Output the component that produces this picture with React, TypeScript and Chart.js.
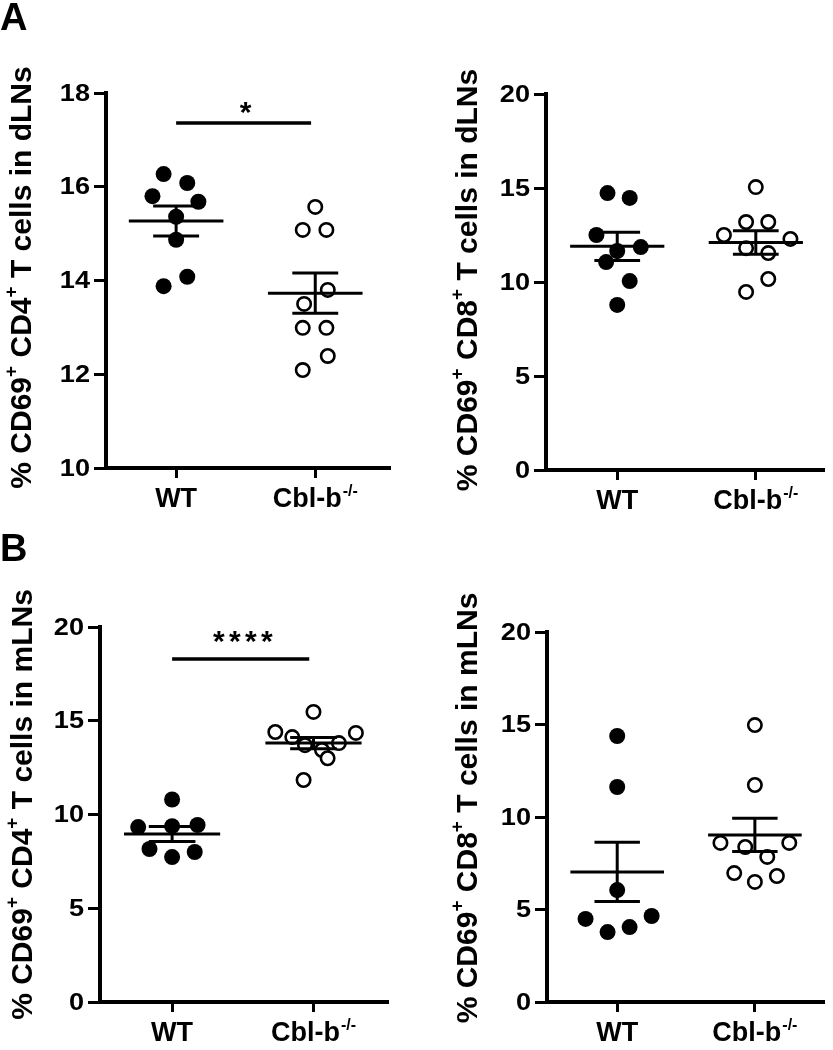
import React, { useEffect, useRef } from 'react';
import { Chart, registerables } from 'chart.js';

Chart.register(...registerables);

const FONT = '"Liberation Sans", Arial, Helvetica, sans-serif';

// ---------- categories ----------
const groupNames = ['WT', 'Cbl-b'];
const groupSups = ['', '-/-'];

// ---------- Panel A (left): CD69+ CD4+ in dLNs ----------
const aCd4WtValues = [16.27, 16.08, 15.8, 15.68, 15.36, 14.87, 14.08, 13.88];
const aCd4WtJitter = [-0.09, 0.08, -0.17, 0.16, 0, 0, 0.08, -0.09];
const aCd4KoValues = [15.57, 15.08, 15.08, 13.8, 13.5, 12.99, 12.99, 12.39, 12.09];
const aCd4KoJitter = [0, -0.09, 0.08, 0.09, -0.08, -0.09, 0.08, 0.09, -0.09];
const aCd4Means = [15.27, 13.73];
const aCd4Sems = [0.32, 0.43];
const aCd4Ticks = [10, 12, 14, 16, 18];
const aCd4Sig = { y: 17.36, label: '*' };

// ---------- Panel A (right): CD69+ CD8+ in dLNs ----------
const aCd8WtValues = [14.73, 14.47, 12.5, 11.86, 11.65, 11.06, 10.05, 8.78];
const aCd8WtJitter = [-0.07, 0.09, -0.15, 0.17, 0, -0.08, 0.09, 0];
const aCd8KoValues = [15.05, 13.19, 13.19, 12.5, 12.29, 11.8, 11.54, 10.16, 9.47];
const aCd8KoJitter = [0, -0.07, 0.09, -0.23, 0.25, -0.07, 0.09, 0.09, -0.07];
const aCd8Means = [11.9, 12.1];
const aCd8Sems = [0.75, 0.62];
const aCd8Ticks = [0, 5, 10, 15, 20];

// ---------- Panel B (left): CD69+ CD4+ in mLNs ----------
const bCd4WtValues = [10.8, 9.33, 9.38, 9.44, 8.16, 8.0, 7.73];
const bCd4WtJitter = [0, -0.24, 0, 0.18, -0.16, 0.16, 0];
const bCd4KoValues = [15.47, 14.4, 14.35, 14.13, 13.81, 13.7, 13.44, 13.0, 11.84];
const bCd4KoJitter = [0, -0.27, 0.3, -0.15, 0.18, -0.06, 0.06, 0.1, -0.07];
const bCd4Means = [8.96, 13.81];
const bCd4Sems = [0.4, 0.3];
const bCd4Ticks = [0, 5, 10, 15, 20];
const bCd4Sig = { y: 18.3, label: '****' };

// ---------- Panel B (right): CD69+ CD8+ in mLNs ----------
const bCd8WtValues = [14.38, 11.62, 6.05, 4.49, 4.65, 4.05, 3.78];
const bCd8WtJitter = [0, 0, 0, -0.23, 0.25, 0.09, -0.07];
const bCd8KoValues = [14.97, 11.73, 8.6, 8.6, 8.38, 7.84, 6.97, 6.81, 6.49];
const bCd8KoJitter = [0, 0, -0.25, 0.25, -0.07, 0.09, -0.15, 0.16, 0];
const bCd8Means = [7.03, 9.03];
const bCd8Sems = [1.6, 0.9];
const bCd8Ticks = [0, 5, 10, 15, 20];

// ---------- titles ----------
type Seg = [string, boolean];
const titleCd4dLN: Seg[] = [['% CD69', false], ['+', true], [' CD4', false], ['+', true], [' T cells in dLNs', false]];
const titleCd8dLN: Seg[] = [['% CD69', false], ['+', true], [' CD8', false], ['+', true], [' T cells in dLNs', false]];
const titleCd4mLN: Seg[] = [['% CD69', false], ['+', true], [' CD4', false], ['+', true], [' T cells in mLNs', false]];
const titleCd8mLN: Seg[] = [['% CD69', false], ['+', true], [' CD8', false], ['+', true], [' T cells in mLNs', false]];

interface PanelCfg {
  left: number; top: number; width: number; height: number;
  yTicks: number[];
  yAxisWidth: number; padTop: number; padRight: number; xAxisHeight: number;
  xMin: number; xMax: number;
  wt: number[]; wtJit: number[]; ko: number[]; koJit: number[];
  means: number[]; sems: number[];
  title: Seg[]; titleX: number; titleDy: number;
  sig?: { y: number; label: string };
  letter?: { text: string; x: number; y: number };
}

const panels: PanelCfg[] = [
  {
    left: 0, top: 0, width: 410, height: 520,
    yTicks: aCd4Ticks, yAxisWidth: 106, padTop: 93, padRight: 21, xAxisHeight: 52,
    xMin: 0.496, xMax: 2.53,
    wt: aCd4WtValues, wtJit: aCd4WtJitter, ko: aCd4KoValues, koJit: aCd4KoJitter,
    means: aCd4Means, sems: aCd4Sems, title: titleCd4dLN, titleX: 23, titleDy: -3, sig: aCd4Sig,
    letter: { text: 'A', x: 0, y: 30 },
  },
  {
    left: 410, top: 0, width: 423, height: 520,
    yTicks: aCd8Ticks, yAxisWidth: 136, padTop: 94, padRight: 6, xAxisHeight: 50,
    xMin: 0.486, xMax: 2.49,
    wt: aCd8WtValues, wtJit: aCd8WtJitter, ko: aCd8KoValues, koJit: aCd8KoJitter,
    means: aCd8Means, sems: aCd8Sems, title: titleCd8dLN, titleX: 59, titleDy: -2,
  },
  {
    left: 0, top: 520, width: 410, height: 530,
    yTicks: bCd4Ticks, yAxisWidth: 100, padTop: 107, padRight: 23, xAxisHeight: 48,
    xMin: 0.49, xMax: 2.52,
    wt: bCd4WtValues, wtJit: bCd4WtJitter, ko: bCd4KoValues, koJit: bCd4KoJitter,
    means: bCd4Means, sems: bCd4Sems, title: titleCd4mLN, titleX: 24, titleDy: -10, sig: bCd4Sig,
    letter: { text: 'B', x: 0, y: 41 },
  },
  {
    left: 410, top: 520, width: 423, height: 530,
    yTicks: bCd8Ticks, yAxisWidth: 137, padTop: 112, padRight: 5, xAxisHeight: 48,
    xMin: 0.49, xMax: 2.5,
    wt: bCd8WtValues, wtJit: bCd8WtJitter, ko: bCd8KoValues, koJit: bCd8KoJitter,
    means: bCd8Means, sems: bCd8Sems, title: titleCd8mLN, titleX: 59, titleDy: -9,
  },
];

function PanelChart({ cfg }: { cfg: PanelCfg }) {
  const ref = useRef<HTMLCanvasElement | null>(null);

  useEffect(() => {
    const canvas = ref.current;
    if (!canvas) return;

    const deco = {
      id: 'deco',
      afterDatasetsDraw(chart: any) {
        const ctx = chart.ctx;
        const xs = chart.scales.x;
        const ys = chart.scales.y;
        ctx.save();
        ctx.strokeStyle = '#000';
        ctx.lineWidth = 3;
        ctx.lineCap = 'butt';
        const line = (x1: number, y1: number, x2: number, y2: number) => {
          ctx.beginPath();
          ctx.moveTo(x1, y1);
          ctx.lineTo(x2, y2);
          ctx.stroke();
        };
        cfg.means.forEach((m, g) => {
          const cx = g + 1;
          const s = cfg.sems[g];
          line(xs.getPixelForValue(cx - 0.34), ys.getPixelForValue(m), xs.getPixelForValue(cx + 0.34), ys.getPixelForValue(m));
          line(xs.getPixelForValue(cx - 0.165), ys.getPixelForValue(m + s), xs.getPixelForValue(cx + 0.165), ys.getPixelForValue(m + s));
          line(xs.getPixelForValue(cx - 0.165), ys.getPixelForValue(m - s), xs.getPixelForValue(cx + 0.165), ys.getPixelForValue(m - s));
          line(xs.getPixelForValue(cx), ys.getPixelForValue(m + s), xs.getPixelForValue(cx), ys.getPixelForValue(m - s));
        });
        if (cfg.sig) {
          const yb = ys.getPixelForValue(cfg.sig.y);
          ctx.lineWidth = 3.5;
          line(xs.getPixelForValue(1), yb, xs.getPixelForValue(1.97), yb);
          ctx.fillStyle = '#000';
          ctx.font = `bold 30px ${FONT}`;
          ctx.textAlign = 'center';
          ctx.textBaseline = 'alphabetic';
          const n = cfg.sig.label.length;
          const step = 16;
          const cx = xs.getPixelForValue(1.5);
          const base = yb + (n > 1 ? -8 : -1);
          for (let i = 0; i < n; i++) {
            ctx.fillText(cfg.sig.label[i], cx + (i - (n - 1) / 2) * step, base);
          }
        }
        ctx.restore();
      },
      afterDraw(chart: any) {
        const ctx = chart.ctx;
        const xs = chart.scales.x;
        const ys = chart.scales.y;
        const area = chart.chartArea;
        ctx.save();
        ctx.fillStyle = '#000';
        // y tick labels (slightly wide lettering)
        ctx.font = `bold 24px ${FONT}`;
        ctx.textAlign = 'right';
        ctx.textBaseline = 'middle';
        cfg.yTicks.forEach((v) => {
          const py = ys.getPixelForValue(v);
          const rx = area.left - 16;
          ctx.save();
          ctx.translate(rx, py + 1);
          ctx.scale(1.13, 1);
          ctx.fillText(String(v), 0, 0);
          ctx.restore();
        });
        // x category labels
        groupNames.forEach((name, g) => {
          const cx = xs.getPixelForValue(g + 1);
          const base = area.bottom + 39;
          ctx.font = `bold 27px ${FONT}`;
          const w1 = ctx.measureText(name).width;
          let w2 = 0;
          if (groupSups[g]) {
            ctx.font = `bold 16px ${FONT}`;
            w2 = ctx.measureText(groupSups[g]).width + 1;
          }
          const start = cx - (w1 + w2) / 2;
          ctx.textAlign = 'left';
          ctx.textBaseline = 'alphabetic';
          ctx.font = `bold 27px ${FONT}`;
          ctx.fillText(name, start, base);
          if (groupSups[g]) {
            ctx.font = `bold 16px ${FONT}`;
            ctx.fillText(groupSups[g], start + w1 + 1, base - 11);
          }
        });
        // y title (rotated)
        const bigFont = `bold 30px ${FONT}`;
        const supFont = `bold 19px ${FONT}`;
        let total = 0;
        cfg.title.forEach(([t, sup]) => {
          ctx.font = sup ? supFont : bigFont;
          total += ctx.measureText(t).width;
        });
        ctx.translate(cfg.titleX, (area.top + area.bottom) / 2 + cfg.titleDy);
        ctx.rotate(-Math.PI / 2);
        ctx.textAlign = 'left';
        ctx.textBaseline = 'middle';
        let px = -total / 2;
        cfg.title.forEach(([t, sup]) => {
          ctx.font = sup ? supFont : bigFont;
          ctx.fillText(t, px, sup ? -11 : 0);
          px += ctx.measureText(t).width;
        });
        ctx.setTransform(1, 0, 0, 1, 0, 0);
        if (cfg.letter) {
          ctx.font = `bold 38px ${FONT}`;
          ctx.textAlign = 'left';
          ctx.textBaseline = 'alphabetic';
          ctx.fillText(cfg.letter.text, cfg.letter.x, cfg.letter.y);
        }
        ctx.restore();
      },
    };

    const yMin = cfg.yTicks[0];
    const yMax = cfg.yTicks[cfg.yTicks.length - 1];

    const chart = new Chart(canvas, {
      type: 'scatter',
      data: {
        datasets: [
          {
            label: groupNames[0],
            data: cfg.wt.map((v, i) => ({ x: 1 + cfg.wtJit[i], y: v })),
            pointRadius: 8,
            pointBackgroundColor: '#000',
            pointBorderColor: '#000',
            pointBorderWidth: 0,
            clip: false,
          } as any,
          {
            label: groupNames[1],
            data: cfg.ko.map((v, i) => ({ x: 2 + cfg.koJit[i], y: v })),
            pointRadius: 6.7,
            pointBackgroundColor: '#fff',
            pointBorderColor: '#000',
            pointBorderWidth: 2.6,
            clip: false,
          } as any,
        ],
      },
      options: {
        animation: false,
        responsive: false,
        events: [],
        layout: { padding: { top: cfg.padTop, right: cfg.padRight, left: 0, bottom: 0 } },
        plugins: { legend: { display: false }, tooltip: { enabled: false }, title: { display: false } },
        scales: {
          x: {
            type: 'linear',
            min: cfg.xMin,
            max: cfg.xMax,
            afterBuildTicks: (s: any) => { s.ticks = [{ value: 1 }, { value: 2 }]; },
            afterFit: (s: any) => { s.height = cfg.xAxisHeight; },
            ticks: { callback: () => '', display: true },
            grid: { display: true, drawOnChartArea: false, drawTicks: true, tickLength: 10, color: '#000', lineWidth: 3 },
            border: { display: true, color: '#000', width: 4 },
          },
          y: {
            type: 'linear',
            min: yMin,
            max: yMax,
            afterBuildTicks: (s: any) => { s.ticks = cfg.yTicks.map((v) => ({ value: v })); },
            afterFit: (s: any) => { s.width = cfg.yAxisWidth; },
            ticks: { color: 'rgba(0,0,0,0)', font: { family: FONT, size: 24, weight: 'bold' }, padding: 5 },
            grid: { display: true, drawOnChartArea: false, drawTicks: true, tickLength: 12, color: '#000', lineWidth: 3 },
            border: { display: true, color: '#000', width: 4 },
          },
        },
      } as any,
      plugins: [deco],
    });

    return () => chart.destroy();
  }, [cfg]);

  return (
    <canvas
      ref={ref}
      width={cfg.width}
      height={cfg.height}
      style={{ position: 'absolute', left: cfg.left, top: cfg.top, width: cfg.width, height: cfg.height }}
    />
  );
}

export default function App() {
  return (
    <div style={{ position: 'absolute', left: 0, top: 0, width: 833, height: 1050, background: '#fff', overflow: 'hidden' }}>
      {panels.map((p, i) => (
        <PanelChart key={i} cfg={p} />
      ))}
    </div>
  );
}
